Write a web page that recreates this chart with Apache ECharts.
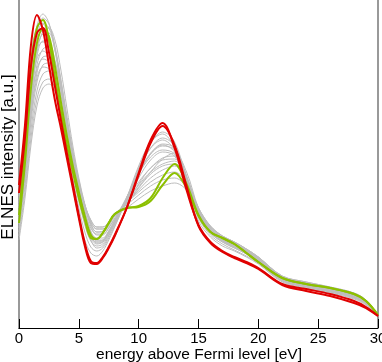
<!DOCTYPE html>
<html>
<head>
<meta charset="utf-8">
<script src="https://cdn.jsdelivr.net/npm/echarts@6/dist/echarts.min.js"></script>
<style>
  html, body { margin: 0; padding: 0; background: #fff; }
  #main { width: 382px; height: 362px; }
</style>
</head>
<body>
<div id="main"></div>
<script>
// energy grid [eV]
var energy = [0, 0.5, 1, 1.5, 2, 2.5, 3, 3.5, 4, 4.5, 5, 5.5, 6, 6.5, 7, 7.5, 8, 9, 10, 11, 12, 13, 14, 15, 16, 17, 18, 19, 20, 22, 24, 26, 28, 29, 30];

// intensities (arbitrary units)
var grayCurves = [
  [128, 195, 262, 302, 314, 305, 278, 240, 200, 163, 132, 106, 88, 80, 82, 92, 104, 130, 160, 185, 196, 186, 150, 112, 95, 86, 80, 74, 66, 47, 41, 36, 30, 24, 13],
  [120, 182, 250, 292, 305, 300, 280, 245, 206, 170, 138, 112, 93, 85, 86, 95, 106, 130, 158, 180, 190, 182, 150, 114, 96, 87, 81, 75, 67, 48, 42, 37, 31, 25, 13],
  [115, 172, 238, 280, 294, 295, 278, 248, 212, 177, 146, 118, 97, 88, 88, 96, 107, 130, 154, 174, 184, 180, 152, 116, 97, 88, 82, 76, 68, 49, 43, 38, 32, 25, 13],
  [112, 168, 232, 272, 287, 286, 268, 238, 203, 170, 140, 114, 95, 87, 88, 97, 108, 131, 154, 171, 178, 174, 148, 116, 98, 88, 82, 76, 68, 49, 43, 38, 32, 26, 13],
  [108, 160, 222, 263, 279, 281, 266, 240, 208, 176, 148, 122, 102, 93, 93, 100, 110, 128, 146, 160, 170, 172, 152, 118, 99, 89, 83, 77, 69, 50, 44, 39, 33, 26, 13],
  [104, 154, 214, 255, 271, 272, 258, 233, 202, 172, 146, 122, 104, 96, 96, 102, 112, 127, 143, 156, 164, 167, 150, 119, 100, 90, 84, 77, 69, 50, 44, 39, 33, 26, 13],
  [100, 148, 206, 246, 263, 265, 252, 228, 198, 170, 145, 123, 106, 99, 99, 104, 113, 125, 138, 150, 158, 162, 148, 120, 101, 91, 85, 78, 70, 51, 45, 40, 34, 27, 13],
  [96, 142, 198, 237, 254, 257, 246, 223, 195, 168, 144, 123, 108, 101, 101, 106, 114, 125, 136, 146, 153, 156, 145, 120, 102, 92, 86, 79, 71, 51, 45, 40, 34, 27, 13],
  [92, 136, 190, 229, 246, 249, 240, 219, 192, 166, 143, 123, 108, 101, 101, 106, 114, 123, 133, 142, 148, 150, 141, 119, 102, 92, 86, 79, 71, 52, 46, 41, 35, 28, 13],
  [88, 130, 183, 222, 240, 244, 237, 217, 191, 165, 142, 122, 106, 99, 99, 104, 112, 120, 129, 137, 142, 145, 138, 118, 101, 92, 86, 79, 71, 52, 46, 41, 35, 28, 13],
  [132, 202, 270, 302, 304, 288, 258, 218, 176, 140, 110, 88, 75, 72, 77, 88, 101, 130, 162, 186, 194, 180, 142, 107, 91, 82, 77, 71, 64, 46, 40, 35, 29, 23, 12],
  [125, 190, 255, 290, 297, 286, 260, 224, 185, 150, 120, 96, 81, 77, 80, 90, 102, 128, 157, 180, 188, 178, 145, 110, 93, 84, 78, 72, 65, 47, 41, 36, 30, 24, 12],
  [120, 180, 243, 279, 286, 279, 258, 226, 190, 156, 127, 103, 87, 82, 84, 93, 104, 128, 154, 175, 183, 176, 146, 113, 95, 86, 80, 74, 66, 48, 42, 37, 31, 25, 13],
  [116, 172, 233, 269, 277, 272, 254, 225, 191, 159, 131, 107, 91, 86, 87, 95, 105, 127, 150, 168, 176, 172, 146, 115, 97, 88, 82, 76, 68, 49, 43, 38, 32, 25, 13],
  [110, 163, 222, 259, 269, 266, 250, 223, 192, 162, 135, 112, 96, 90, 90, 97, 107, 125, 144, 160, 168, 169, 148, 117, 98, 89, 83, 77, 69, 50, 44, 39, 33, 26, 13],
  [105, 155, 212, 250, 261, 259, 245, 220, 191, 163, 138, 116, 100, 94, 94, 100, 109, 124, 140, 154, 162, 164, 147, 118, 99, 90, 84, 78, 70, 51, 45, 40, 34, 27, 13],
  [108, 160, 225, 275, 297, 300, 288, 258, 220, 182, 150, 124, 104, 96, 97, 104, 113, 126, 141, 156, 169, 175, 156, 120, 100, 90, 84, 77, 69, 50, 44, 39, 33, 26, 13],
  [122, 186, 255, 296, 310, 304, 282, 248, 208, 170, 136, 108, 90, 84, 86, 95, 106, 129, 155, 174, 182, 178, 150, 114, 96, 87, 81, 75, 67, 48, 42, 37, 31, 25, 13]
];
var greenCurves = [
  [113, 180, 263, 300, 308, 288, 250, 216, 183, 156, 130, 108, 90, 89, 95, 105, 114, 120, 122, 130, 150, 164, 144, 113, 96, 90, 84, 75, 66, 50, 44, 40, 34, 27, 13],
  [105, 165, 240, 285, 299, 292, 262, 226, 192, 162, 136, 112, 93, 89, 95, 105, 114, 120, 121, 127, 143, 155, 140, 112, 96, 90, 84, 75, 66, 50, 44, 40, 34, 27, 13]
];
var redCurves = [
  [143, 203, 283, 313, 298, 263, 228, 200, 170, 140, 110, 82, 65, 64, 70, 80, 92, 120, 155, 188, 205, 180, 138, 103, 86, 77, 71, 66, 60, 44, 39, 34, 27, 21, 12],
  [135, 190, 262, 295, 300, 276, 242, 208, 175, 144, 113, 85, 67, 65, 71, 81, 93, 120, 153, 185, 202, 183, 142, 102, 85, 76, 70, 65, 59, 43, 37, 32, 25, 20, 12]
];
var xTicks = [0, 5, 10, 15, 20, 25, 30];

function pairs(ys) {
  return ys.map(function (v, i) { return [energy[i], v]; });
}

var series = [];
grayCurves.forEach(function (c) {
  series.push({ type: 'line', data: pairs(c), smooth: 0.35, symbol: 'none', silent: true,
    lineStyle: { color: '#bdbdbd', width: 1 } });
});
greenCurves.forEach(function (c) {
  series.push({ type: 'line', data: pairs(c), smooth: 0.35, symbol: 'none', silent: true,
    lineStyle: { color: '#8cc000', width: 2 } });
});
redCurves.forEach(function (c) {
  series.push({ type: 'line', data: pairs(c), smooth: 0.35, symbol: 'none', silent: true,
    lineStyle: { color: '#e00000', width: 2 } });
});

var chart = echarts.init(document.getElementById('main'));
chart.setOption({
  animation: false,
  backgroundColor: '#fff',
  grid: { left: 19, right: 4, top: 0, bottom: 34, outerBoundsMode: 'none' },
  xAxis: {
    type: 'value', min: 0, max: 30, interval: 5,
    axisLine: { lineStyle: { color: '#000', width: 1 } },
    axisTick: { inside: true, length: 9, lineStyle: { color: '#000' } },
    axisLabel: { show: true, fontFamily: 'Liberation Sans', fontSize: 15, color: '#000', margin: 3,
      showMinLabel: true, showMaxLabel: true, hideOverlap: false,
      formatter: function (v) { return xTicks.indexOf(v) >= 0 ? String(v) : ''; } },
    splitLine: { show: false }
  },
  yAxis: {
    type: 'value', min: 0, max: 328,
    axisLine: { show: true, lineStyle: { color: '#999', width: 2 } },
    axisTick: { show: false }, axisLabel: { show: false }, splitLine: { show: false }
  },
  graphic: [
    { type: 'line', shape: { x1: 378, y1: 0, x2: 378, y2: 328 }, style: { stroke: '#999', lineWidth: 2 } },
    { type: 'text', x: 199, y: 347,
      style: { text: 'energy above Fermi level [eV]', fontFamily: 'Liberation Sans', fontSize: 15.5, fill: '#000',
        align: 'center', verticalAlign: 'top' } },
    { type: 'text', x: 0, y: 157, rotation: Math.PI / 2,
      style: { text: 'ELNES intensity [a.u.]', fontFamily: 'Liberation Sans', fontSize: 17, fill: '#000',
        align: 'center', verticalAlign: 'top' } }
  ],
  series: series
});
</script>
</body>
</html>
